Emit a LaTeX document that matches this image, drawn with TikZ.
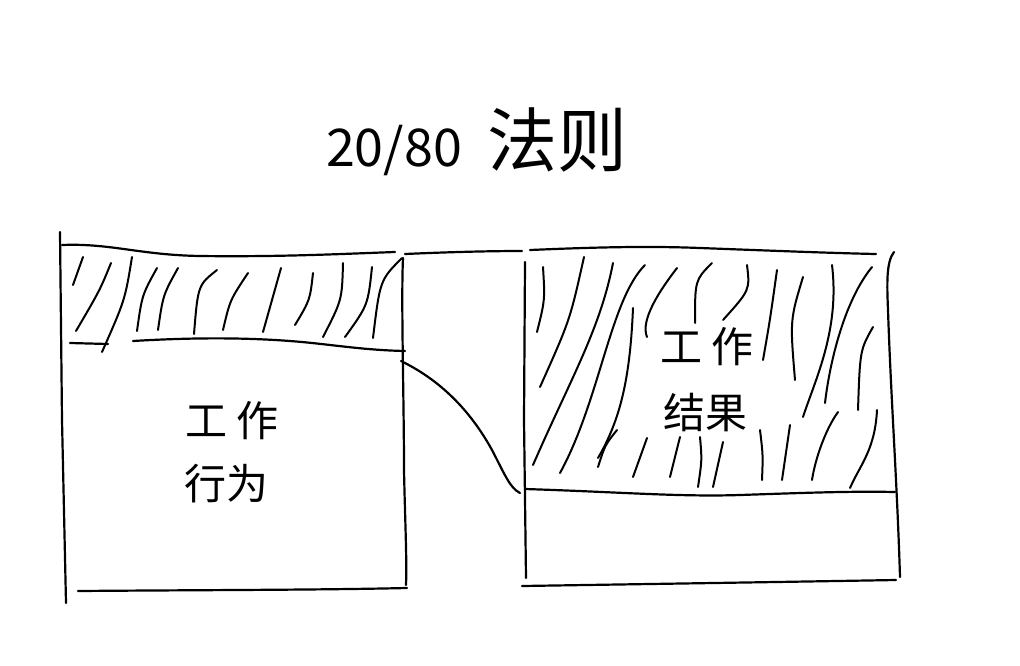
\documentclass[tikz,border=0pt]{standalone}
\usepackage{fontspec}
\newfontfamily\cjk{Noto Sans CJK SC}
\tikzset{
  pen/.style={line width=2.2pt, line cap=round, line join=round, black},
  hatch/.style={line width=2pt, line cap=round, black},
  lbl/.style={font=\cjk\fontsize{42}{44}\selectfont, inner sep=0pt}
}
\begin{document}
\begin{tikzpicture}[x=1pt,y=-1pt]
\useasboundingbox[fill=white] (0,0) rectangle (1020,665);
% title
\node[font=\cjk, inner sep=0pt] (title) at (477,142) {\fontsize{52}{54}\selectfont 20/80\hspace{26pt}\fontsize{70}{72}\selectfont 法则};
% ---------- left box ----------
\draw[pen] (60,232) -- (62,420) -- (66,603);
\draw[pen] (62,245) .. controls (110,243) and (140,255) .. (200,256) .. controls (280,257) and (340,254) .. (395,252);
\draw[pen] (403,258) .. controls (401,300) and (404,400) .. (404,470) .. controls (405,520) and (407,560) .. (406,585);
\draw[pen] (78,591) .. controls (200,590) and (320,590) .. (407,588);
\draw[pen] (70,343) -- (108,344);
\draw[pen] (133,341) .. controls (200,337) and (250,338) .. (290,341) .. controls (330,344) and (360,350) .. (405,351);
% left hatching
\draw[hatch] (83,257) -- (73,285);
\draw[hatch] (111,263) .. controls (100,290) .. (76,331);
\draw[hatch] (132,257) .. controls (125,300) .. (102,352);
\draw[hatch] (157,268) .. controls (142,295) .. (137,331);
\draw[hatch] (178,268) .. controls (163,295) .. (158,330);
\draw[hatch] (217,270) .. controls (198,285) .. (194,334);
\draw[hatch] (248,273) .. controls (230,300) .. (223,330);
\draw[hatch] (281,268) -- (263,332);
\draw[hatch] (313,273) .. controls (310,300) .. (295,325);
\draw[hatch] (343,263) .. controls (342,300) .. (323,337);
\draw[hatch] (372,267) .. controls (368,305) .. (345,337);
\draw[hatch] (402,258) .. controls (380,280) .. (373,338);
% left labels
\node[lbl] (l1) at (232,421) {工 作};
\node[lbl] (l2) at (226,484) {行为};
% ---------- connector ----------
\draw[pen] (405,254) .. controls (450,252) and (490,251) .. (522,251);
\draw[pen] (401,361) .. controls (440,380) and (470,410) .. (492,450) .. controls (505,475) and (510,488) .. (520,493);
% ---------- right box ----------
\draw[pen] (530,250) .. controls (600,247) and (650,246) .. (700,248) .. controls (780,251) and (830,253) .. (876,254);
\draw[pen] (525,262) -- (524,420) -- (526,578);
\draw[pen] (894,252) .. controls (886,262) and (887,285) .. (888,310) .. controls (891,400) and (897,480) .. (900,577);
\draw[pen] (525,489) .. controls (620,492) and (680,497) .. (740,495) .. controls (800,493) and (850,491) .. (895,492);
\draw[pen] (522,586) .. controls (650,584) and (780,582) .. (896,580);
% right hatching
\draw[hatch] (543,267) .. controls (545,300) .. (537,332);
\draw[hatch] (584,257) .. controls (570,320) .. (540,387);
\draw[hatch] (613,263) .. controls (600,330) and (570,380) .. (533,465);
\draw[hatch] (645,265) .. controls (610,300) and (600,400) .. (560,473);
\draw[hatch] (633,308) .. controls (630,380) and (620,420) .. (598,458);
\draw[hatch] (677,268) .. controls (660,290) and (640,320) .. (647,337);
\draw[hatch] (712,263) .. controls (695,280) .. (695,323);
\draw[hatch] (747,265) .. controls (750,290) .. (723,320);
\draw[hatch] (777,270) .. controls (770,320) .. (763,360);
\draw[hatch] (803,277) .. controls (790,320) .. (795,380);
\draw[hatch] (832,265) .. controls (840,330) and (815,380) .. (803,417);
\draw[hatch] (872,267) .. controls (845,300) and (830,360) .. (825,403);
\draw[hatch] (873,327) .. controls (860,350) .. (858,410);
\draw[hatch] (877,410) .. controls (875,450) and (860,465) .. (850,488);
\draw[hatch] (838,412) .. controls (825,430) and (815,460) .. (812,480);
\draw[hatch] (790,425) -- (782,480);
\draw[hatch] (760,430) .. controls (763,455) .. (762,480);
\draw[hatch] (723,442) -- (713,487);
\draw[hatch] (700,437) .. controls (702,460) .. (698,487);
\draw[hatch] (680,437) -- (670,477);
\draw[hatch] (647,438) -- (633,477);
\draw[hatch] (617,430) .. controls (605,445) .. (598,467);
% right labels
\node[lbl] (r1) at (707,347) {工 作};
\node[lbl] (r2) at (705,413) {结果};
\end{tikzpicture}
\end{document}
